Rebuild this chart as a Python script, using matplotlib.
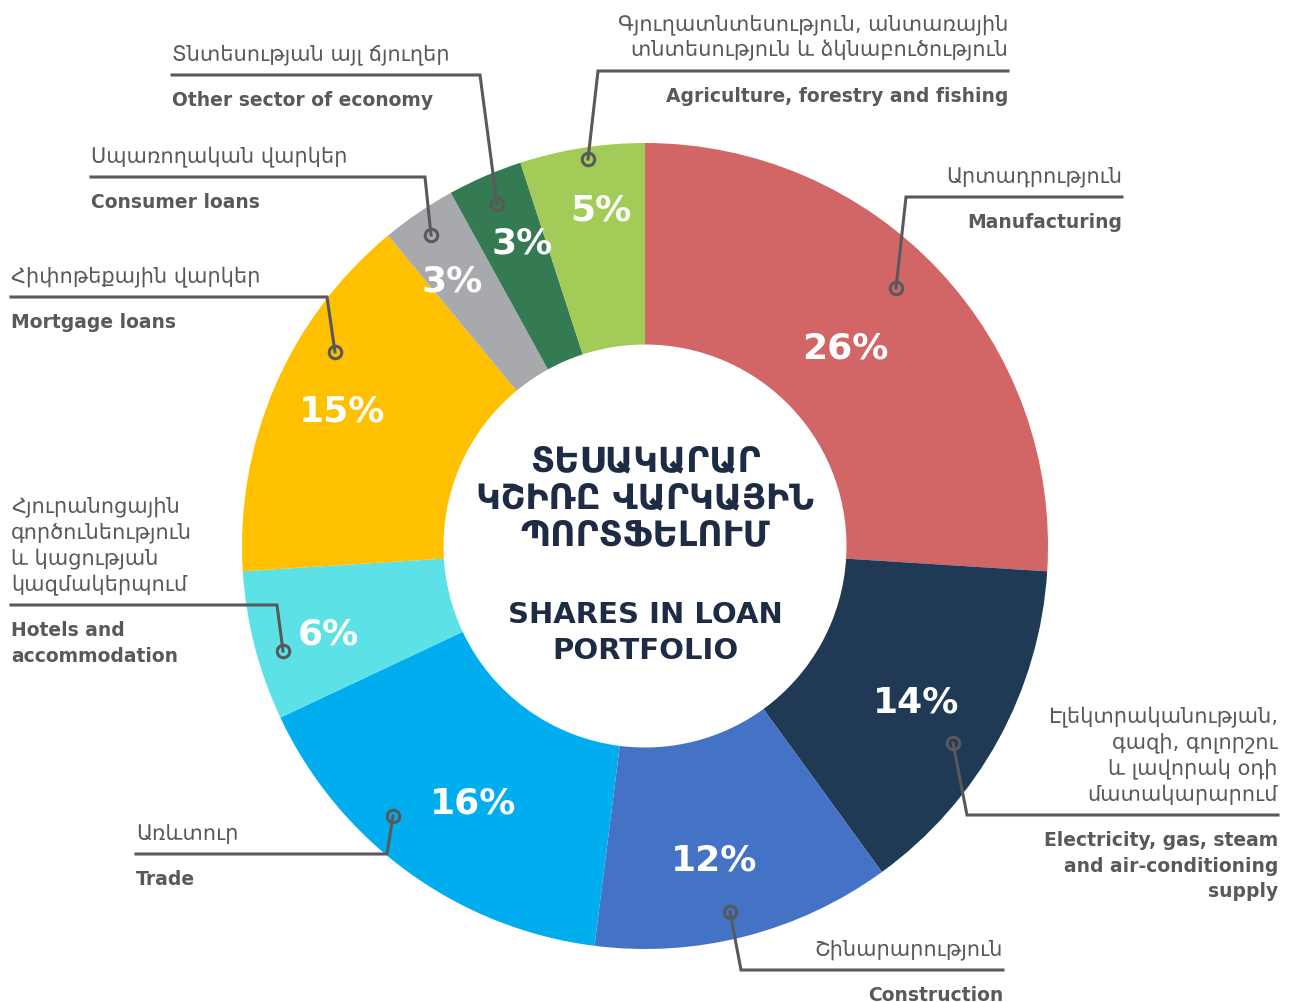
import numpy as np
import matplotlib
matplotlib.use("Agg")
import matplotlib.pyplot as plt

plt.rcParams['font.family'] = ['DejaVu Sans']

# shares in loan portfolio, clockwise from 12 o'clock
sectors_en = ["Manufacturing", "Electricity, gas, steam\nand air-conditioning\nsupply",
              "Construction", "Trade", "Hotels and\naccommodation", "Mortgage loans",
              "Consumer loans", "Other sector of economy", "Agriculture, forestry and fishing"]
sectors_hy = ["Արտադրություն",
              "Էլեկտրականության,\nգազի, գոլորշու\nև լավորակ օդի\nմատակարարում",
              "Շինարարություն", "Առևտուր",
              "Հյուրանոցային\nգործունեություն\nև կացության\nկազմակերպում",
              "Հիփոթեքային վարկեր", "Սպառողական վարկեր", "Տնտեսության այլ ճյուղեր",
              "Գյուղատնտեսություն, անտառային\nտնտեսություն և ձկնաբուծություն"]
shares = [26, 14, 12, 16, 6, 15, 3, 3, 5]
colors = ["#D26565", "#203A55", "#4472C4", "#00AEEF", "#5CE1E6",
          "#FFC000", "#A7A9AC", "#347A52", "#A2CB58"]

# layout (pixel coords of the 1295x1003 canvas)
cx, cy, R = 645, 547, 403
pct_r = [0.705, 0.772, 0.79, 0.76, 0.814, 0.827, 0.82, 0.82, 0.85]
pct_nudge = [-2.1, 0.6, 1.9, -1.8, -0.6, 1.2, -1.6, 1.6, 1.6]  # degrees
# dot, elbow, end of rule, text side
callouts = [
    ((896, 289), (906, 198), 1122, 'right'),
    ((953, 744), (967, 816), 1278, 'right'),
    ((730, 913), (741, 971), 1003, 'right'),
    ((393, 817), (387, 855), 136, 'left'),
    ((283, 652), (277, 606), 11, 'left'),
    ((335, 353), (327, 298), 11, 'left'),
    ((431, 236), (425, 178), 91, 'left'),
    ((497, 205), (480, 76), 172, 'left'),
    ((588, 160), (598, 72), 1008, 'right'),
]

gray = "#58595B"
navy = "#1E2B45"

fig = plt.figure(figsize=(12.95, 10.03), dpi=100)
ax = fig.add_axes([0, 0, 1, 1])

ax.pie(shares, colors=colors, startangle=-90, counterclock=True,
       radius=R, center=(cx, cy), frame=True,
       wedgeprops=dict(width=R * 0.5, linewidth=0))

ax.set_xlim(0, 1295)
ax.set_ylim(1003, 0)
ax.set_aspect('equal')
ax.axis('off')

# percentages
cum = np.cumsum(shares) - np.array(shares) / 2
theta = np.deg2rad(cum / sum(shares) * 360 + np.array(pct_nudge))
for v, t, f in zip(shares, theta, pct_r):
    x = cx + R * f * np.sin(t)
    y = cy - R * f * np.cos(t)
    ax.text(x, y + 13, f"{v}%", color="white", fontsize=26, fontweight='bold',
            ha='center', va='baseline')

# callouts
for (dot, elbow, xend, side), hy, en in zip(callouts, sectors_hy, sectors_en):
    ax.plot([dot[0], elbow[0], xend], [dot[1], elbow[1], elbow[1]],
            color=gray, lw=2.2, solid_joinstyle='miter', zorder=3)
    ax.plot(dot[0], dot[1], 'o', ms=9, mfc='none', mec=gray, mew=2.2, zorder=4)
    ax.text(xend, elbow[1] - 11, hy, color=gray, fontsize=15, ha=side, va='bottom',
            multialignment=side, linespacing=1.32)
    ax.text(xend, elbow[1] + 15, en, color=gray, fontsize=13.5, fontweight='bold',
            ha=side, va='top', multialignment=side, linespacing=1.44)

# centre title
ax.text(cx, 498, "ՏԵՍԱԿԱՐԱՐ\nԿՇԻՌԸ ՎԱՐԿԱՅԻՆ\nՊՈՐՏՖԵԼՈՒՄ", color=navy, fontsize=25,
        fontweight='bold', ha='center', va='center', linespacing=1.1)
ax.text(cx, 633, "SHARES IN LOAN\nPORTFOLIO", color=navy, fontsize=21,
        fontweight='bold', ha='center', va='center', linespacing=1.36)

fig.savefig("out.png", dpi=100, facecolor='white')
